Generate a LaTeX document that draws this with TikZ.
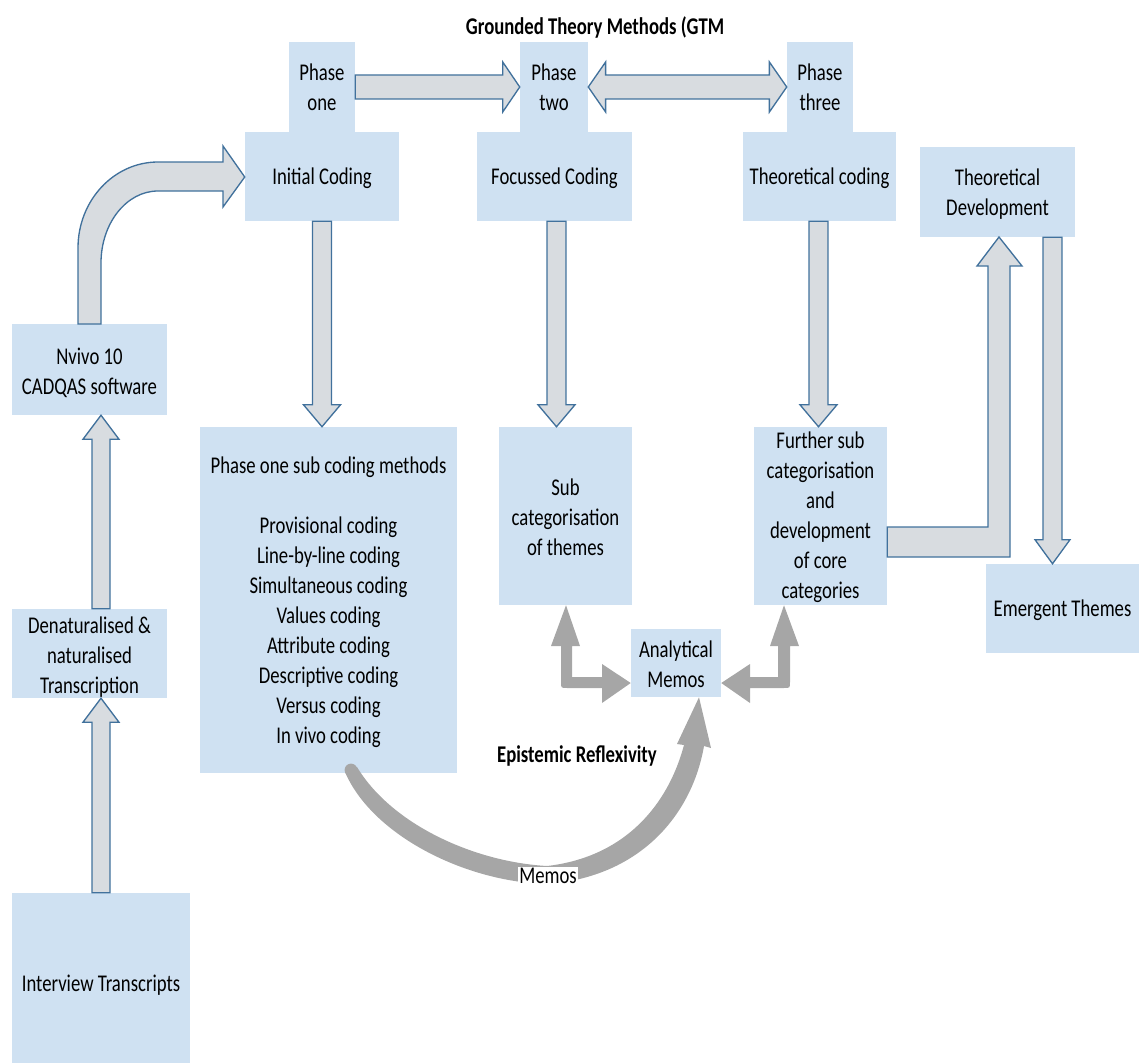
\documentclass[tikz,border=0pt]{standalone}
\usepackage{fontspec}
\setmainfont{Carlito}[FakeStretch=0.78]
\usetikzlibrary{calc}

\definecolor{boxblue}{RGB}{207,225,242}
\definecolor{arrowfill}{RGB}{216,220,224}
\definecolor{arrowline}{RGB}{65,113,156}
\definecolor{memogray}{RGB}{166,166,166}

\tikzset{
  txt/.style={font=\fontsize{18}{22.5}\selectfont},
  boldtxt/.style={font=\bfseries\fontsize{18}{22.5}\selectfont},
  box/.style={fill=boxblue, inner sep=0pt},
  boxtext/.style={txt, inner sep=0pt, align=center},
  blockarrow/.style={fill=arrowfill, draw=arrowline, line width=1pt, line join=miter},
  memoarrow/.style={fill=memogray},
  % straight block arrow: shaft half width, head half width, head length
  blk/.style n args={3}{to path={let \p1=(\tikztostart), \p2=(\tikztotarget),
      \p3=($(\p2)!#3!(\p1)$) in
      ($(\p1)!#1!90:(\p2)$) -- ($(\p3)!#1!90:(\p2)$) -- ($(\p3)!#2!90:(\p2)$) -- (\p2)
      -- ($(\p3)!#2!-90:(\p2)$) -- ($(\p3)!#1!-90:(\p2)$) -- ($(\p1)!#1!-90:(\p2)$) -- cycle}},
  % straight block arrow with a head at both ends
  dblk/.style n args={3}{to path={let \p1=(\tikztostart), \p2=(\tikztotarget),
      \p3=($(\p1)!#3!(\p2)$), \p4=($(\p2)!#3!(\p1)$) in
      (\p1) -- ($(\p3)!#2!90:(\p2)$) -- ($(\p3)!#1!90:(\p2)$) -- ($(\p4)!#1!-90:(\p1)$)
      -- ($(\p4)!#2!-90:(\p1)$) -- (\p2) -- ($(\p4)!#2!90:(\p1)$) -- ($(\p4)!#1!90:(\p1)$)
      -- ($(\p3)!#1!-90:(\p2)$) -- ($(\p3)!#2!-90:(\p2)$) -- cycle}},
}

% box given by its corners (x1,y1) and (x2,y2), text a little below centre
\newcommand\boxat[7][1.6pt]{%
  \pgfmathsetmacro\bw{(#5-#3)*0.75}%
  \pgfmathsetmacro\bh{(#6-#4)*0.75}%
  \node[box, minimum width=\bw pt, minimum height=\bh pt] (#2) at ({(#3+#5)/2},{(#4+#6)/2}) {};
  \node[boxtext] (#2-text) at ([yshift=-#1]#2.center) {#7};}

\begin{document}
\begin{tikzpicture}[x=0.75pt, y=-0.75pt]
\useasboundingbox (0,0) rectangle (1139,1063);

% ---- boxes ----
\boxat[0pt]{p1}{289}{42}{355}{132}{Phase\\one}
\boxat{ic}{245}{132}{399}{221}{Initial Coding}
\boxat[0pt]{p2}{520}{42}{588}{132}{Phase\\two}
\boxat{fc}{477}{132}{632}{221}{Focussed Coding}
\boxat[0pt]{p3}{787}{42}{853}{132}{Phase\\three}
\boxat{tc}{743}{132}{896}{221}{Theoretical coding}
\boxat{td}{920}{147}{1075}{237}{Theoretical\\Development}
\boxat[2.2pt]{nv}{12}{324}{167}{415}{Nvivo 10\\CADQAS software}
\boxat[2.6pt]{dn}{12}{609}{167}{698}{Denaturalised \&\\naturalised\\Transcription}
\boxat{it}{12}{893}{190}{1073}{Interview Transcripts}
\boxat{ps}{200}{427}{457}{773}{Phase one sub coding methods\\[22.5pt]Provisional coding\\Line-by-line coding\\Simultaneous coding\\Values coding\\Attribute coding\\Descriptive coding\\Versus coding\\In vivo coding}
\boxat[1pt]{sc}{499}{427}{632}{605}{Sub\\categorisation\\of themes}
\boxat[1pt]{fs}{754}{427}{887}{605}{Further sub\\categorisation\\and\\development\\of core\\categories}
\boxat{et}{986}{564}{1139}{653}{Emergent Themes}
\boxat[1pt]{am}{631}{629}{721}{697}{Analytical\\Memos}

% ---- labels ----
\node[boldtxt] (title) at (595,27) {Grounded Theory Methods (GTM};
\node[boldtxt] (er) at (577,756) {Epistemic Reflexivity};

% ---- arrow end points ----
\coordinate (aTop) at (ic.south);
\coordinate (bTop) at ($(fc.south)+(2,0)$);
\coordinate (cTop) at ($(tc.south)+(-1,0)$);
\coordinate (dBot) at ($(dn.north)+(11.5,0)$);
\coordinate (hTop) at ($(td.south)+(55,0)$);

% ---- straight block arrows ----
\draw[blockarrow, blk={9pt}{18.75pt}{12.75pt}] (p1.east) to (p2.west);
\draw[blockarrow, dblk={9pt}{18.75pt}{13pt}] (p2.east) to (p3.west);
\draw[blockarrow, blk={7.1pt}{13.9pt}{16.5pt}] (aTop) to (aTop |- ps.north);
\draw[blockarrow, blk={7.1pt}{13.9pt}{16.5pt}] (bTop) to (bTop |- sc.north);
\draw[blockarrow, blk={7.1pt}{13.9pt}{16.5pt}] (cTop) to (cTop |- fs.north);
\draw[blockarrow, blk={6.75pt}{13.5pt}{18pt}] (dBot) to (dBot |- nv.south);
\draw[blockarrow, blk={6.75pt}{13.5pt}{18pt}] (it.north) to (it.north |- dn.south);
\draw[blockarrow, blk={7.1pt}{13.1pt}{18pt}] (hTop) to (hTop |- et.north);

% ---- curved block arrow from the software box to initial coding ----
\draw[blockarrow] (78,324) -- (78,248)
  .. controls (78,200.5) and (113.8,162) .. (158,162)
  -- (223,162) -- (223,146) -- (ic.west |- 0,177) -- (223,207) -- (223,191) -- (158,191)
  .. controls (126.5,191) and (101,223.3) .. (101,263) -- (101,324) -- cycle;

% ---- bent block arrow to theoretical development ----
\draw[blockarrow] (fs.east |- 0,527) -- (988,527) -- (988,266) -- (977,266)
  -- (999,237) -- (1022,266) -- (1010,266) -- (1010,557) -- (fs.east |- 0,557) -- cycle;

% ---- grey memo arrows ----
\fill[memoarrow] (580,646) -- (572,646) -- (572,677) -- (602,677) -- (602,664)
  -- (am.west |- 0,683) -- (602,703) -- (602,688) -- (567,688)
  .. controls (561,688) .. (561,682) -- (561,646) -- (551,646) -- (sc.south -| 566,0) -- cycle;
\fill[memoarrow] (770,646) -- (778,646) -- (778,677) -- (750,677) -- (750,664)
  -- (am.east |- 0,683) -- (750,703) -- (750,688) -- (784,688)
  .. controls (790,688) .. (790,682) -- (790,646) -- (799,646) -- (fs.south -| 784,0) -- cycle;

% ---- reflexivity memo band ----
\fill[memoarrow] (345,772) .. controls (372,835) and (465,882) .. (547,884)
  .. controls (640,877) and (692,815) .. (704,746) -- (711,748) -- (am.south -| 699,0)
  -- (677,744) -- (684,745) .. controls (668,805) and (625,857) .. (547,866)
  .. controls (475,862) and (392,825) .. (357,767) -- cycle;
\fill[memoarrow] (351,770) circle[radius=4.8pt];
\node[txt, fill=white, inner sep=1pt] (memolbl) at (548,876) {Memos};

\end{tikzpicture}
\end{document}
